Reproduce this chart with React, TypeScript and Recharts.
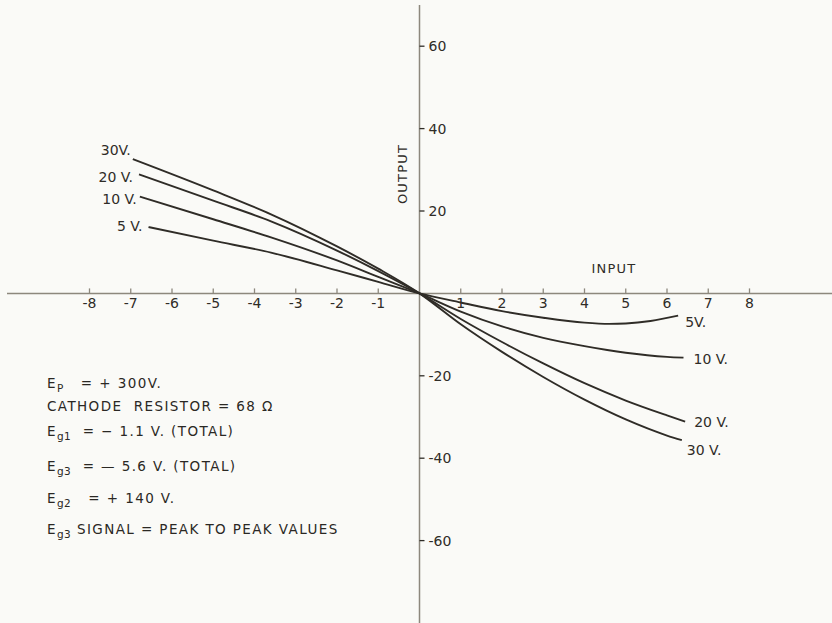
import React from 'react';
import { ComposedChart, Line, XAxis, YAxis, ReferenceLine, Scatter } from 'recharts';

// ---- data ----
const xTickValues = [-8, -7, -6, -5, -4, -3, -2, -1, 1, 2, 3, 4, 5, 6, 7, 8];
const yTickValues = [60, 40, 20, -20, -40, -60];

const series30 = [
  { x: -6.95, y: 32.6 }, { x: -5, y: 25.0 }, { x: -3.6, y: 19.2 }, { x: -2, y: 11.4 },
  { x: -1, y: 6.0 }, { x: 0, y: 0 }, { x: 1, y: -7.5 }, { x: 2, y: -14.2 },
  { x: 3, y: -20.3 }, { x: 4, y: -25.8 }, { x: 5, y: -30.6 }, { x: 6, y: -34.5 },
  { x: 6.36, y: -35.6 },
];
const series20 = [
  { x: -6.8, y: 28.9 }, { x: -5, y: 22.5 }, { x: -3.6, y: 17.5 }, { x: -2, y: 10.4 },
  { x: -1, y: 5.4 }, { x: 0, y: 0 }, { x: 1, y: -6.2 }, { x: 2, y: -11.8 },
  { x: 3, y: -17.0 }, { x: 4, y: -21.8 }, { x: 5, y: -26.0 }, { x: 6, y: -29.6 },
  { x: 6.44, y: -31.1 },
];
const series10 = [
  { x: -6.78, y: 23.5 }, { x: -5, y: 18.0 }, { x: -3.6, y: 13.6 }, { x: -2, y: 8.0 },
  { x: -1, y: 4.0 }, { x: 0, y: 0 }, { x: 1, y: -4.4 }, { x: 2, y: -8.0 },
  { x: 3, y: -10.8 }, { x: 4, y: -12.8 }, { x: 5, y: -14.4 }, { x: 6, y: -15.4 },
  { x: 6.4, y: -15.6 },
];
const series5 = [
  { x: -6.57, y: 16.1 }, { x: -5, y: 12.8 }, { x: -3.6, y: 9.9 }, { x: -2, y: 5.6 },
  { x: -1, y: 2.8 }, { x: 0, y: 0 }, { x: 1, y: -2.2 }, { x: 2, y: -4.3 },
  { x: 3, y: -5.9 }, { x: 4, y: -7.1 }, { x: 4.6, y: -7.4 }, { x: 5, y: -7.3 },
  { x: 5.6, y: -6.7 }, { x: 6.27, y: -5.4 },
];

const seriesKeys = ['30', '20', '10', '5'];
const leftLabels = ['30V.', '20 V.', '10 V.', '5 V.'];
const rightLabels = ['30 V.', '20 V.', '10 V.', '5V.'];
const seriesList = [series30, series20, series10, series5];

// ---- styles ----
const INK = '#2f2c27';
const AXIS = '#8d887d';
const FONT = '"DejaVu Sans", sans-serif';

const labelOffsets: Record<string, { dx: number; dy: number; anchor: 'start' | 'end' }> = {
  '30-left': { dx: -2, dy: -4, anchor: 'end' },
  '20-left': { dx: -6, dy: 8, anchor: 'end' },
  '10-left': { dx: -3, dy: 7, anchor: 'end' },
  '5-left': { dx: -6, dy: 4, anchor: 'end' },
  '30-right': { dx: 5, dy: 15, anchor: 'start' },
  '20-right': { dx: 9, dy: 5, anchor: 'start' },
  '10-right': { dx: 10, dy: 6, anchor: 'start' },
  '5-right': { dx: 7, dy: 11, anchor: 'start' },
};

const xTickData = xTickValues.map((v) => ({ x: v, y: 0, label: String(v) }));
const yTickData = yTickValues.map((v) => ({ x: 0, y: v, label: String(v) }));
const curveLabelData = seriesList.flatMap((s, i) => [
  { x: s[0].x, y: s[0].y, text: leftLabels[i], key: seriesKeys[i] + '-left' },
  { x: s[s.length - 1].x, y: s[s.length - 1].y, text: rightLabels[i], key: seriesKeys[i] + '-right' },
]);

const XTickShape = (p: any) => {
  const { cx, cy, payload } = p;
  return (
    <g>
      <line x1={cx} y1={cy} x2={cx} y2={cy - 5} stroke={AXIS} strokeWidth={1.3} />
      <text x={cx} y={cy + 15} textAnchor="middle" fontFamily={FONT} fontSize={14} fill={INK}>
        {payload.label}
      </text>
    </g>
  );
};

const YTickShape = (p: any) => {
  const { cx, cy, payload } = p;
  return (
    <g>
      <line x1={cx} y1={cy} x2={cx + 5} y2={cy} stroke={INK} strokeWidth={1.3} />
      <text x={cx + 9} y={cy + 5} textAnchor="start" fontFamily={FONT} fontSize={14} fill={INK}>
        {payload.label}
      </text>
    </g>
  );
};

const CurveLabelShape = (p: any) => {
  const { cx, cy, payload } = p;
  const o = labelOffsets[payload.key];
  return (
    <text x={cx + o.dx} y={cy + o.dy} textAnchor={o.anchor} fontFamily={FONT} fontSize={14} fill={INK}>
      {payload.text}
    </text>
  );
};

const annoStyle: React.CSSProperties = {
  position: 'absolute',
  left: 47,
  fontFamily: FONT,
  fontSize: 13.5,
  letterSpacing: 1.4,
  color: '#2a2824',
  whiteSpace: 'pre',
  lineHeight: '16px',
};
const subStyle: React.CSSProperties = { fontSize: 10.5, verticalAlign: 'sub', letterSpacing: 0.5 };

export default function App() {
  return (
    <div style={{ position: 'absolute', left: 0, top: 0, width: 832, height: 623, background: '#fafaf7', overflow: 'hidden' }}>
      <ComposedChart width={832} height={623} margin={{ top: 5, right: 0, bottom: 0, left: 7 }}>
        <XAxis type="number" dataKey="x" domain={[-10, 10]} hide allowDataOverflow />
        <YAxis type="number" dataKey="y" domain={[-80, 70]} hide allowDataOverflow />
        <ReferenceLine y={0} stroke={AXIS} strokeWidth={1.5} />
        <ReferenceLine x={0} stroke={AXIS} strokeWidth={1.5} />
        {seriesList.map((s, i) => (
          <Line
            key={seriesKeys[i]}
            data={s}
            dataKey="y"
            type="monotone"
            stroke={INK}
            strokeWidth={1.9}
            dot={false}
            activeDot={false}
            isAnimationActive={false}
          />
        ))}
        <Scatter data={xTickData} shape={XTickShape} isAnimationActive={false} />
        <Scatter data={yTickData} shape={YTickShape} isAnimationActive={false} />
        <Scatter data={curveLabelData} shape={CurveLabelShape} isAnimationActive={false} />
      </ComposedChart>

      <div style={{ position: 'absolute', left: 402, top: 174, transform: 'translate(-50%, -50%) rotate(-90deg)', fontFamily: FONT, fontSize: 13, letterSpacing: 1.2, color: INK }}>
        OUTPUT
      </div>
      <div style={{ position: 'absolute', left: 614, top: 268, transform: 'translate(-50%, -50%)', fontFamily: FONT, fontSize: 13, letterSpacing: 1.2, color: INK }}>
        INPUT
      </div>

      <div style={{ ...annoStyle, top: 375 }}>E<span style={subStyle}>P</span>{'   = + 300V.'}</div>
      <div style={{ ...annoStyle, top: 398 }}>CATHODE  RESISTOR = 68 Ω</div>
      <div style={{ ...annoStyle, top: 423 }}>E<span style={subStyle}>g1</span>{'  = − 1.1 V. (TOTAL)'}</div>
      <div style={{ ...annoStyle, top: 458 }}>E<span style={subStyle}>g3</span>{'  = — 5.6 V. (TOTAL)'}</div>
      <div style={{ ...annoStyle, top: 490 }}>E<span style={subStyle}>g2</span>{'   = + 140 V.'}</div>
      <div style={{ ...annoStyle, top: 521 }}>E<span style={subStyle}>g3</span>{' SIGNAL = PEAK TO PEAK VALUES'}</div>
    </div>
  );
}
